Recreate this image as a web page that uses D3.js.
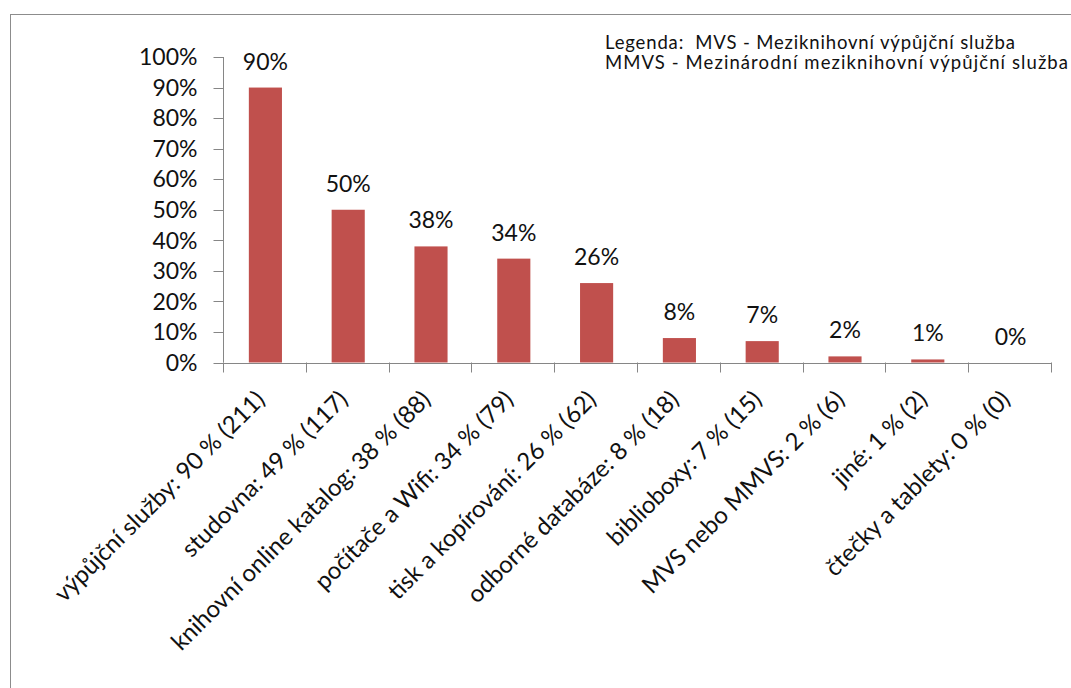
<!DOCTYPE html>
<html>
<head>
<meta charset="utf-8">
<script src="https://cdn.jsdelivr.net/npm/d3@7"></script>
<style>
  html, body { margin: 0; padding: 0; background: #fff; }
  svg { display: block; font-family: Lato, "Open Sans", sans-serif; }
</style>
</head>
<body>
<svg id="chart" width="1071" height="688"></svg>
<script>
// Služby knihovny – podíl odpovědí
const categories = [
  "výpůjční služby: 90 % (211)",
  "studovna: 49 % (117)",
  "knihovní online katalog: 38 % (88)",
  "počítače a Wifi: 34 % (79)",
  "tisk a kopírování: 26 % (62)",
  "odborné databáze: 8 % (18)",
  "biblioboxy: 7 % (15)",
  "MVS nebo MMVS: 2 % (6)",
  "jiné: 1 % (2)",
  "čtečky a tablety: 0 % (0)"
];
const values = [90, 50, 38, 34, 26, 8, 7, 2, 1, 0];
const yTicks = [0, 10, 20, 30, 40, 50, 60, 70, 80, 90, 100];
const legendLines = [
  "Legenda:  MVS - Meziknihovní výpůjční služba",
  "MMVS - Mezinárodní meziknihovní výpůjční služba"
];
const legendWidths = [410, 463];

const svg = d3.select("#chart");
const axisColor = "#868686";
const barColor = "#C0504D";

// chart frame
svg.append("rect")
  .attr("x", 10.5).attr("y", 14.5)
  .attr("width", 1100).attr("height", 700)
  .attr("fill", "none").attr("stroke", "#8c8c8c").attr("stroke-width", 1);

const plot = { left: 224, right: 1052, top: 57, bottom: 362.5 };

const x = d3.scaleBand()
  .domain(categories)
  .range([plot.left, plot.right])
  .paddingInner(0.6)
  .paddingOuter(0.3);

const y = d3.scaleLinear()
  .domain([0, 100])
  .range([plot.bottom, plot.top]);

// y axis
const yAxis = svg.append("g").attr("transform", `translate(${plot.left - 0.5},0)`);
yAxis.append("line")
  .attr("x1", 0).attr("x2", 0)
  .attr("y1", y(100)).attr("y2", y(0))
  .attr("stroke", axisColor);
yAxis.selectAll("line.tick").data(yTicks).join("line")
  .attr("class", "tick")
  .attr("x1", -10).attr("x2", 0)
  .attr("y1", d => Math.round(y(d)) + 0.5).attr("y2", d => Math.round(y(d)) + 0.5)
  .attr("stroke", axisColor);
yAxis.selectAll("text").data(yTicks).join("text")
  .attr("x", -26)
  .attr("y", d => y(d))
  .attr("dy", "0.36em")
  .attr("text-anchor", "end")
  .attr("font-size", 23)
  .attr("fill", "#111")
  .text(d => d + "%");

// bars
svg.append("g").selectAll("rect").data(values).join("rect")
  .attr("x", (d, i) => x(categories[i]))
  .attr("width", x.bandwidth())
  .attr("y", d => y(d))
  .attr("height", d => y(0) - y(d))
  .attr("fill", barColor);

// value labels
svg.append("g").selectAll("text").data(values).join("text")
  .attr("x", (d, i) => x(categories[i]) + x.bandwidth() / 2)
  .attr("y", d => y(d) - 18)
  .attr("text-anchor", "middle")
  .attr("font-size", 23)
  .attr("fill", "#111")
  .text(d => d + "%");

// x axis
const step = x.step();
const boundaries = d3.range(categories.length + 1).map(i => plot.left + i * step);
const xAxis = svg.append("g");
xAxis.append("line")
  .attr("x1", plot.left - 10).attr("x2", plot.right)
  .attr("y1", Math.round(y(0)) + 0.5).attr("y2", Math.round(y(0)) + 0.5)
  .attr("stroke", axisColor);
xAxis.selectAll("line.tick").data(boundaries).join("line")
  .attr("class", "tick")
  .attr("x1", d => Math.round(d) - 0.5).attr("x2", d => Math.round(d) - 0.5)
  .attr("y1", y(0)).attr("y2", y(0) + 10)
  .attr("stroke", axisColor);

// rotated category labels
xAxis.selectAll("text").data(categories).join("text")
  .attr("transform", d => `translate(${x(d) + x.bandwidth() / 2 + 1},${401}) rotate(-45)`)
  .attr("text-anchor", "end")
  .attr("font-size", 24)
  .attr("fill", "#111")
  .text(d => d);

// legend note
svg.append("g").selectAll("text").data(legendLines).join("text")
  .attr("x", 605)
  .attr("y", (d, i) => 49 + i * 20)
  .attr("font-size", 18.5)
  .attr("fill", "#111")
  .attr("textLength", (d, i) => legendWidths[i])
  .attr("lengthAdjust", "spacing")
  .style("white-space", "pre")
  .text(d => d);
</script>
</body>
</html>
